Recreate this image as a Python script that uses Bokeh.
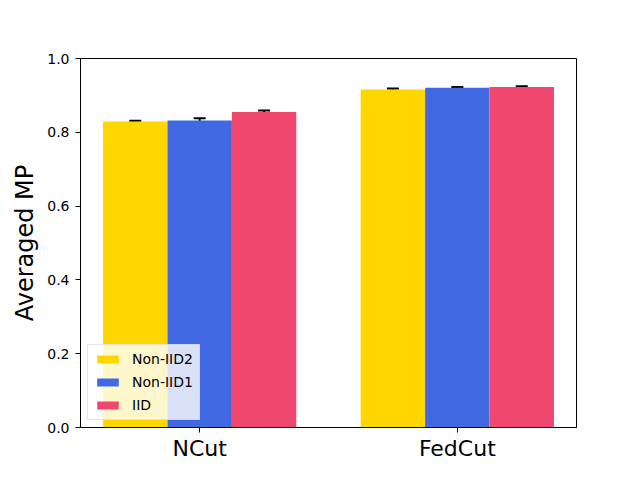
from bokeh.plotting import figure
from bokeh.models import (ColumnDataSource, FixedTicker, Range1d, Legend, LegendItem,
                          Whisker, TeeHead, NumeralTickFormatter)
from bokeh.embed import file_html
from bokeh.resources import INLINE

categories = ["NCut", "FedCut"]
series = ["Non-IID2", "Non-IID1", "IID"]
colors = ["#FFD700", "#4169E1", "#F0476F"]
values = {
    "Non-IID2": [0.829, 0.916],
    "Non-IID1": [0.832, 0.921],
    "IID": [0.855, 0.923],
}
errors = {
    "Non-IID2": [0.002, 0.003],
    "Non-IID1": [0.006, 0.002],
    "IID": [0.004, 0.002],
}
y_ticks = [0.0, 0.2, 0.4, 0.6, 0.8, 1.0]

bar_w = 0.25
FONT = "DejaVu Sans"

p = figure(width=632, height=472, output_backend="svg", toolbar_location=None,
           x_range=Range1d(-0.4625, 1.4625), y_range=Range1d(0, 1.0),
           min_border_left=80, min_border_right=56, min_border_top=58, min_border_bottom=45)
p.xgrid.visible = False
p.ygrid.visible = False
p.outline_line_color = "black"
p.outline_line_width = 1
p.background_fill_color = "white"
p.border_fill_color = "white"

items = []
for i, s in enumerate(series):
    off = (i - 1) * bar_w
    xs = [k + off for k in range(len(categories))]
    top = values[s]
    err = errors[s]
    src = ColumnDataSource(dict(x=xs, top=top,
                                upper=[t + e for t, e in zip(top, err)],
                                lower=[t - e for t, e in zip(top, err)]))
    r = p.vbar(x="x", top="top", width=bar_w, bottom=0, source=src,
               fill_color=colors[i], line_color=None)
    w = Whisker(source=src, base="x", upper="upper", lower="lower",
                line_color="black", line_width=2,
                upper_head=TeeHead(size=12, line_color="black", line_width=2),
                lower_head=TeeHead(size=12, line_color="black", line_width=2))
    p.add_layout(w)
    items.append(LegendItem(label=s, renderers=[r]))

legend = Legend(items=items, location="bottom_left",
                label_text_font=FONT, label_text_font_size="14px",
                label_text_color="black",
                glyph_width=27, glyph_height=10, label_height=14,
                label_standoff=11, spacing=7, padding=6, margin=7,
                background_fill_alpha=0.8, border_line_color="#cccccc",
                border_line_width=1)
p.add_layout(legend)

p.xaxis.ticker = FixedTicker(ticks=list(range(len(categories))))
p.xaxis.major_label_overrides = {i: c for i, c in enumerate(categories)}
p.xaxis.major_label_text_font = FONT
p.xaxis.major_label_text_font_size = "22px"
p.xaxis.major_label_text_color = "black"
p.xaxis.minor_tick_line_color = None
p.xaxis.major_tick_out = 5
p.xaxis.major_tick_in = 0
p.xaxis.axis_line_color = "black"
p.xaxis.major_label_standoff = 3

p.yaxis.ticker = FixedTicker(ticks=y_ticks)
p.yaxis.formatter = NumeralTickFormatter(format="0.0")
p.yaxis.major_label_text_font = FONT
p.yaxis.major_label_text_font_size = "14px"
p.yaxis.major_label_text_color = "black"
p.yaxis.minor_tick_line_color = None
p.yaxis.major_tick_out = 5
p.yaxis.major_tick_in = 0
p.yaxis.axis_label = "Averaged MP"
p.yaxis.axis_label_text_font = FONT
p.yaxis.axis_label_text_font_size = "24px"
p.yaxis.axis_label_text_font_style = "normal"
p.yaxis.axis_label_text_color = "black"
p.yaxis.axis_label_standoff = 5
p.yaxis.major_label_standoff = 6

open("out.html", "w").write(file_html(p, INLINE))
